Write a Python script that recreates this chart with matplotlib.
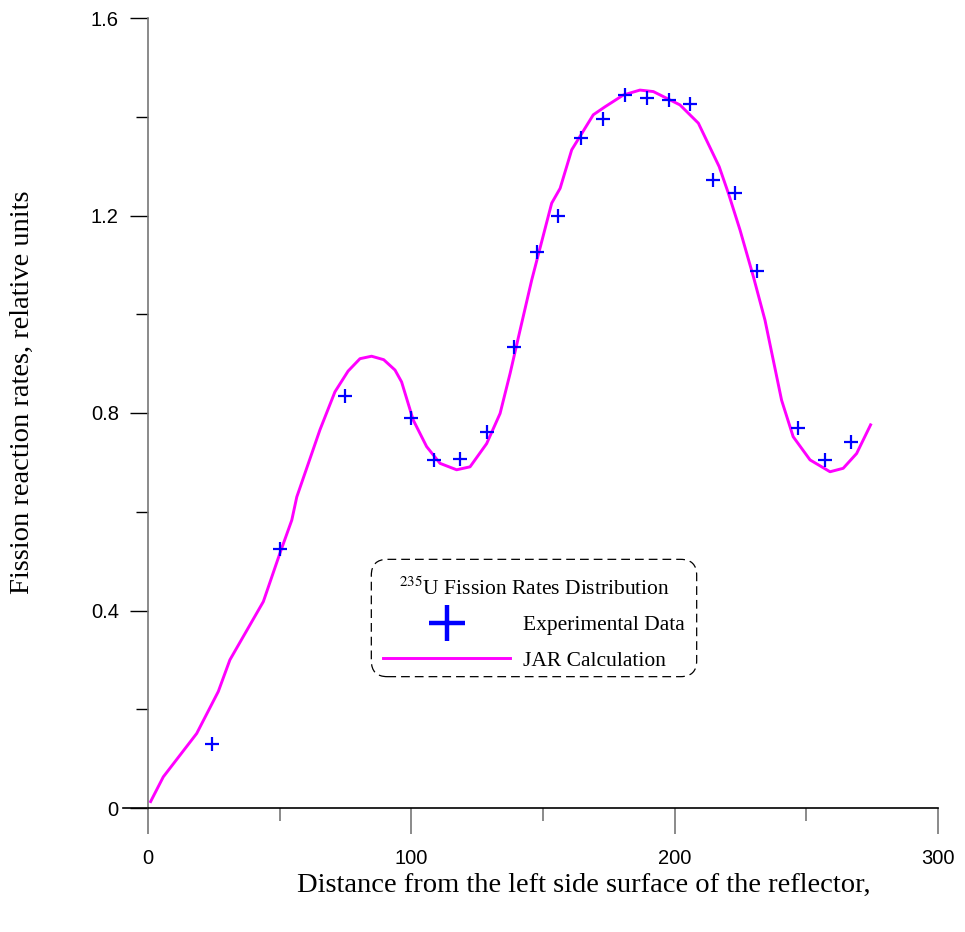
import matplotlib.pyplot as plt
from matplotlib.lines import Line2D
from matplotlib.patches import FancyBboxPatch
from matplotlib.transforms import IdentityTransform

plt.rcParams['mathtext.fontset'] = 'stix'

# experimental points (+ markers)
exp_x = [24.3, 50.1, 74.8, 99.9, 108.6, 118.5, 128.7, 139.0, 147.7, 155.7, 164.4,
         172.8, 181.1, 189.5, 197.8, 205.8, 214.6, 223.0, 231.3, 246.8, 257.1, 267.0]
exp_y = [0.130, 0.525, 0.834, 0.790, 0.705, 0.707, 0.762, 0.934, 1.126, 1.199, 1.357,
         1.395, 1.444, 1.438, 1.434, 1.426, 1.272, 1.246, 1.088, 0.770, 0.705, 0.741]

# JAR calculation curve
calc_x = [1.0, 5.8, 18.5, 26.7, 31.1, 43.8, 50.1, 54.6, 56.5, 65.3, 71.0, 76.0, 80.5,
          84.9, 89.5, 93.8, 96.3, 100.7, 105.8, 110.9, 117.2, 122.3, 128.6, 133.7,
          137.5, 141.3, 145.7, 153.3, 156.5, 160.9, 169.1, 173.5, 180.5, 186.8, 191.9,
          202.0, 209.0, 216.9, 220.4, 224.8, 229.9, 234.3, 240.6, 245.0, 251.4, 259.0,
          264.0, 269.1, 274.4]
calc_y = [0.013, 0.063, 0.151, 0.236, 0.300, 0.418, 0.516, 0.583, 0.630, 0.766, 0.843,
          0.885, 0.910, 0.915, 0.908, 0.887, 0.863, 0.786, 0.732, 0.698, 0.685, 0.691,
          0.738, 0.799, 0.880, 0.968, 1.069, 1.225, 1.255, 1.333, 1.404, 1.420, 1.444,
          1.454, 1.451, 1.424, 1.387, 1.299, 1.245, 1.171, 1.076, 0.988, 0.826, 0.752,
          0.705, 0.681, 0.688, 0.718, 0.776]

fig = plt.figure(figsize=(9.65, 9.32), dpi=100)
ax = fig.add_axes([148/965, 1-808/932, 790/965, 790/932])

ax.plot(calc_x, calc_y, color='#FF00FF', lw=2.1, zorder=2, solid_joinstyle='round')
ax.plot(exp_x, exp_y, ls='none', marker='+', color='#0000FF', ms=9.5, mew=1.6, zorder=3)

ax.set_xlim(0, 300)
ax.set_ylim(0, 1.6)
ax.set_xticks([0, 100, 200, 300])
ax.set_xticks([50, 150, 250], minor=True)
ax.set_yticks([0, 0.4, 0.8, 1.2, 1.6])
ax.set_yticklabels(['0', '0.4', '0.8', '1.2', '1.6'])
ax.set_yticks([0.2, 0.6, 1.0, 1.4], minor=True)

for side in ['top', 'right']:
    ax.spines[side].set_visible(False)
ax.spines['left'].set_color('#777777')
ax.spines['left'].set_linewidth(1.2)
ax.spines['bottom'].set_color('black')
ax.spines['bottom'].set_linewidth(1.2)
# x axis line runs a little past the y axis
ax.add_line(Line2D([-0.032, 0], [0, 0], transform=ax.transAxes, color='black',
                   lw=1.2, clip_on=False))

ax.tick_params(axis='x', which='major', direction='out', length=18.7, width=1.2,
               color='#777777', pad=11, labelsize=14.5)
ax.tick_params(axis='x', which='minor', direction='out', length=9.4, width=1.2,
               color='#777777')
ax.tick_params(axis='y', which='major', direction='out', length=13, width=1.0,
               color='black', pad=8, labelsize=14.5)
ax.tick_params(axis='y', which='minor', direction='out', length=9, width=1.0,
               color='black')
for lab in ax.get_xticklabels() + ax.get_yticklabels():
    lab.set_fontfamily('Liberation Sans')

fig.text(297/965, 1-885/932, 'Distance from the left side surface of the reflector,',
         family='Liberation Serif', fontsize=20.5, ha='left', va='center')
fig.text(22/965, 1-392/932, 'Fission reaction rates, relative units',
         family='Liberation Serif', fontsize=20.5, rotation=90, ha='center', va='center')

# legend: contents sit a bit low inside the dashed rounded box
h_exp = Line2D([], [], ls='none', marker='+', color='#0000FF', ms=26, mew=3.2)
h_calc = Line2D([], [], color='#FF00FF', lw=2.1)
leg = ax.legend([h_exp, h_calc], ['Experimental Data', 'JAR Calculation'],
                title=r'$^{235}$U Fission Rates Distribution',
                loc='center', bbox_to_anchor=((534-148)/790, (808-624)/790),
                prop={'family': 'Liberation Serif', 'size': 15.5},
                title_fontproperties={'family': 'Liberation Serif', 'size': 15.5},
                handlelength=5.9, handletextpad=0.6, labelspacing=0.72,
                borderpad=0.55, frameon=False)

fig.canvas.draw()
bb = leg.get_window_extent(fig.canvas.get_renderer())
box = FancyBboxPatch((bb.x0, bb.y0 + 6), bb.width, bb.height,
                     boxstyle='round,pad=0,rounding_size=16',
                     transform=IdentityTransform(), fill=False,
                     edgecolor='black', lw=0.9, ls=(0, (7, 4)))
fig.add_artist(box)

fig.savefig('out.png', dpi=100)
